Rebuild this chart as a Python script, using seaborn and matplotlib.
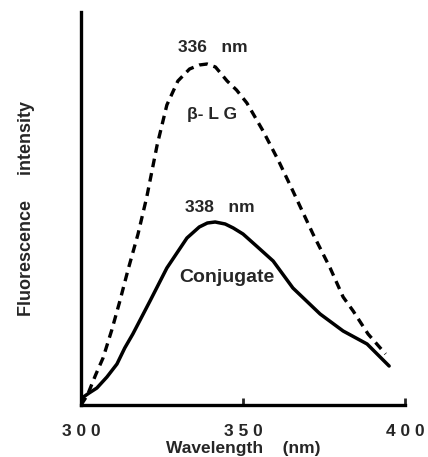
import matplotlib
matplotlib.use("Agg")
import matplotlib.pyplot as plt
import seaborn as sns
import pandas as pd

# Data (arbitrary intensity units)
blg_wavelength = [300.0, 302.0, 304.5, 306.8, 309.5, 312.0, 314.5, 317.6, 320.3, 323.5,
                  326.5, 329.9, 333.5, 336.5, 338.9, 341.5, 345.1, 348.0, 351.2, 356.2,
                  361.0, 365.4, 371.6, 376.9, 380.9, 384.0, 388.6, 394.0]
blg_intensity = [0, 10, 30, 47, 75, 104, 135, 171, 208, 260,
                 300, 324, 336, 340, 341, 338, 324, 315, 302, 274,
                 244, 214, 171, 137, 108, 94, 71, 51]

conj_wavelength = [300.3, 302.5, 304.9, 308.0, 311.1, 313.5, 316.0, 321.3, 326.5, 332.7,
                   336.5, 339.0, 341.4, 344.5, 347.0, 350.0, 354.5, 359.3, 365.4, 373.8,
                   380.9, 388.3, 395.1]
conj_intensity = [7, 12, 17, 28, 41, 57, 71, 104, 137, 167,
                  178, 182, 183, 181, 177, 171, 158, 144, 117, 91,
                  74, 61, 39]

x_ticks = [300, 350, 400]
x_tick_labels = ["3 0 0", "3 5 0", "4 0 0"]

df_blg = pd.DataFrame({"wl": blg_wavelength, "I": blg_intensity})
df_conj = pd.DataFrame({"wl": conj_wavelength, "I": conj_intensity})

sns.set_style("white")
plt.rcParams["font.family"] = ["Liberation Sans", "DejaVu Sans"]

fig = plt.figure(figsize=(4.28, 4.57), dpi=100)
ax = fig.add_axes([81 / 428, 1 - 405 / 457, (405 - 81) / 428, (405 - 12) / 457])

sns.lineplot(data=df_blg, x="wl", y="I", ax=ax, color="black", lw=2.4,
             linestyle=(0, (2.6, 1.8)), sort=False)
sns.lineplot(data=df_conj, x="wl", y="I", ax=ax, color="black", lw=2.5, sort=False)

ax.set_xlim(300, 400)
ax.set_ylim(0, 393)

for s in ["top", "right"]:
    ax.spines[s].set_visible(False)
for s in ["left", "bottom"]:
    ax.spines[s].set_linewidth(2.4)
    ax.spines[s].set_color("black")

ax.set_xticks(x_ticks)
ax.set_xticklabels(x_tick_labels, fontsize=12.5, fontweight="bold")
ax.tick_params(axis="x", direction="in", length=5, width=2, pad=14, bottom=True)
ax.set_yticks([])

ax.set_xlabel("Wavelength    (nm)", fontsize=12.5, fontweight="bold", labelpad=1)
ax.set_ylabel("Fluorescence     intensity", fontsize=13, fontweight="bold", labelpad=33)

ax.text(340.7, 357, "336   nm", ha="center", va="center", fontsize=12.5, fontweight="bold")
ax.text(340.3, 290, "β- L G", ha="center", va="center", fontsize=12.5, fontweight="bold")
ax.text(342.9, 198, "338   nm", ha="center", va="center", fontsize=12.5, fontweight="bold")
ax.text(344.9, 127, "Conjugate", ha="center", va="center", fontsize=14, fontweight="bold")

fig.savefig("out.png", dpi=100)
